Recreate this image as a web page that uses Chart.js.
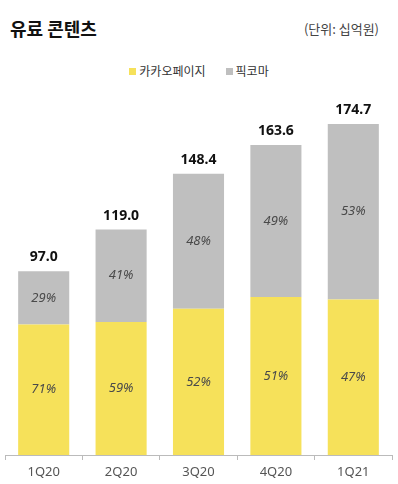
<!DOCTYPE html>
<html>
<head>
<meta charset="utf-8">
<script src="https://cdn.jsdelivr.net/npm/chart.js@4"></script>
<style>
  html, body { margin: 0; padding: 0; background: #fff; }
  body { width: 398px; height: 484px; position: relative; overflow: hidden;
         font-family: "Noto Sans CJK KR", "Noto Sans", sans-serif; }
  .title { position: absolute; left: 10px; top: 15px; font-size: 18px; font-weight: bold; color: #111; }
  .unit { position: absolute; right: 19px; top: 19px; font-size: 13px; color: #444; }
  .legend { position: absolute; left: 0; width: 398px; top: 62px; text-align: center; font-size: 12px; color: #333; }
  .legend span { display: inline-block; margin: 0 10px; }
  .legend i { display: inline-block; width: 7px; height: 7px; margin-right: 3px; vertical-align: 1px; }
  #chart { position: absolute; left: 0; top: 0; }
</style>
</head>
<body>
<div class="title">유료 콘텐츠</div>
<div class="unit">(단위: 십억원)</div>
<div class="legend" id="legend"></div>
<canvas id="chart" width="398" height="484"></canvas>
<script>
// ─── Data ─────────────────────────────────────────────────────
const quarters = ['1Q20', '2Q20', '3Q20', '4Q20', '1Q21'];
const kakaoPage = [68.9, 70.2, 77.2, 83.4, 82.1];
const piccoma = [28.1, 48.8, 71.2, 80.2, 92.6];
const totals = [97.0, 119.0, 148.4, 163.6, 174.7];
const kakaoPct = ['71%', '59%', '52%', '51%', '47%'];
const piccomaPct = ['29%', '41%', '48%', '49%', '53%'];

const YELLOW = '#f6e15a';
const GRAY = '#bfbfbf';

// ─── Legend (HTML) ────────────────────────────────────────────
document.getElementById('legend').innerHTML =
  `<span><i style="background:${YELLOW}"></i>카카오페이지</span>` +
  `<span><i style="background:${GRAY}"></i>픽코마</span>`;

// ─── Labels plugin ────────────────────────────────────────────
const labelPlugin = {
  id: 'barLabels',
  afterDatasetsDraw(chart) {
    const ctx = chart.ctx;
    const m0 = chart.getDatasetMeta(0).data;
    const m1 = chart.getDatasetMeta(1).data;
    ctx.save();
    ctx.textAlign = 'center';
    ctx.textBaseline = 'middle';
    ctx.fillStyle = '#4a4a4a';
    ctx.font = 'italic 13px "Noto Sans", sans-serif';
    m0.forEach((bar, i) => {
      ctx.fillText(kakaoPct[i], bar.x, (bar.y + bar.base) / 2);
    });
    m1.forEach((bar, i) => {
      ctx.fillText(piccomaPct[i], bar.x, (bar.y + bar.base) / 2);
    });
    ctx.fillStyle = '#111';
    ctx.font = 'bold 14px "Noto Sans", sans-serif';
    m1.forEach((bar, i) => {
      ctx.fillText(totals[i].toFixed(1), bar.x, bar.y - 14);
    });
    ctx.restore();
  }
};

new Chart(document.getElementById('chart'), {
  type: 'bar',
  data: {
    labels: quarters,
    datasets: [
      { label: '카카오페이지', data: kakaoPage, backgroundColor: YELLOW },
      { label: '픽코마', data: piccoma, backgroundColor: GRAY }
    ]
  },
  options: {
    responsive: false,
    animation: false,
    layout: { padding: { top: 114, left: 5, right: 6, bottom: 0 } },
    datasets: { bar: { categoryPercentage: 0.66, barPercentage: 1 } },
    plugins: { legend: { display: false }, tooltip: { enabled: false } },
    scales: {
      x: {
        stacked: true,
        afterFit(scale) { scale.height = 29; },
        border: { color: '#bbb' },
        grid: { display: true, drawOnChartArea: false, tickLength: 5, color: '#bbb', offset: true },
        ticks: { color: '#555', padding: 4, font: { size: 13, family: '"Noto Sans", sans-serif' } }
      },
      y: { stacked: true, display: false, min: 0, max: 180 }
    }
  },
  plugins: [labelPlugin]
});
</script>
</body>
</html>
